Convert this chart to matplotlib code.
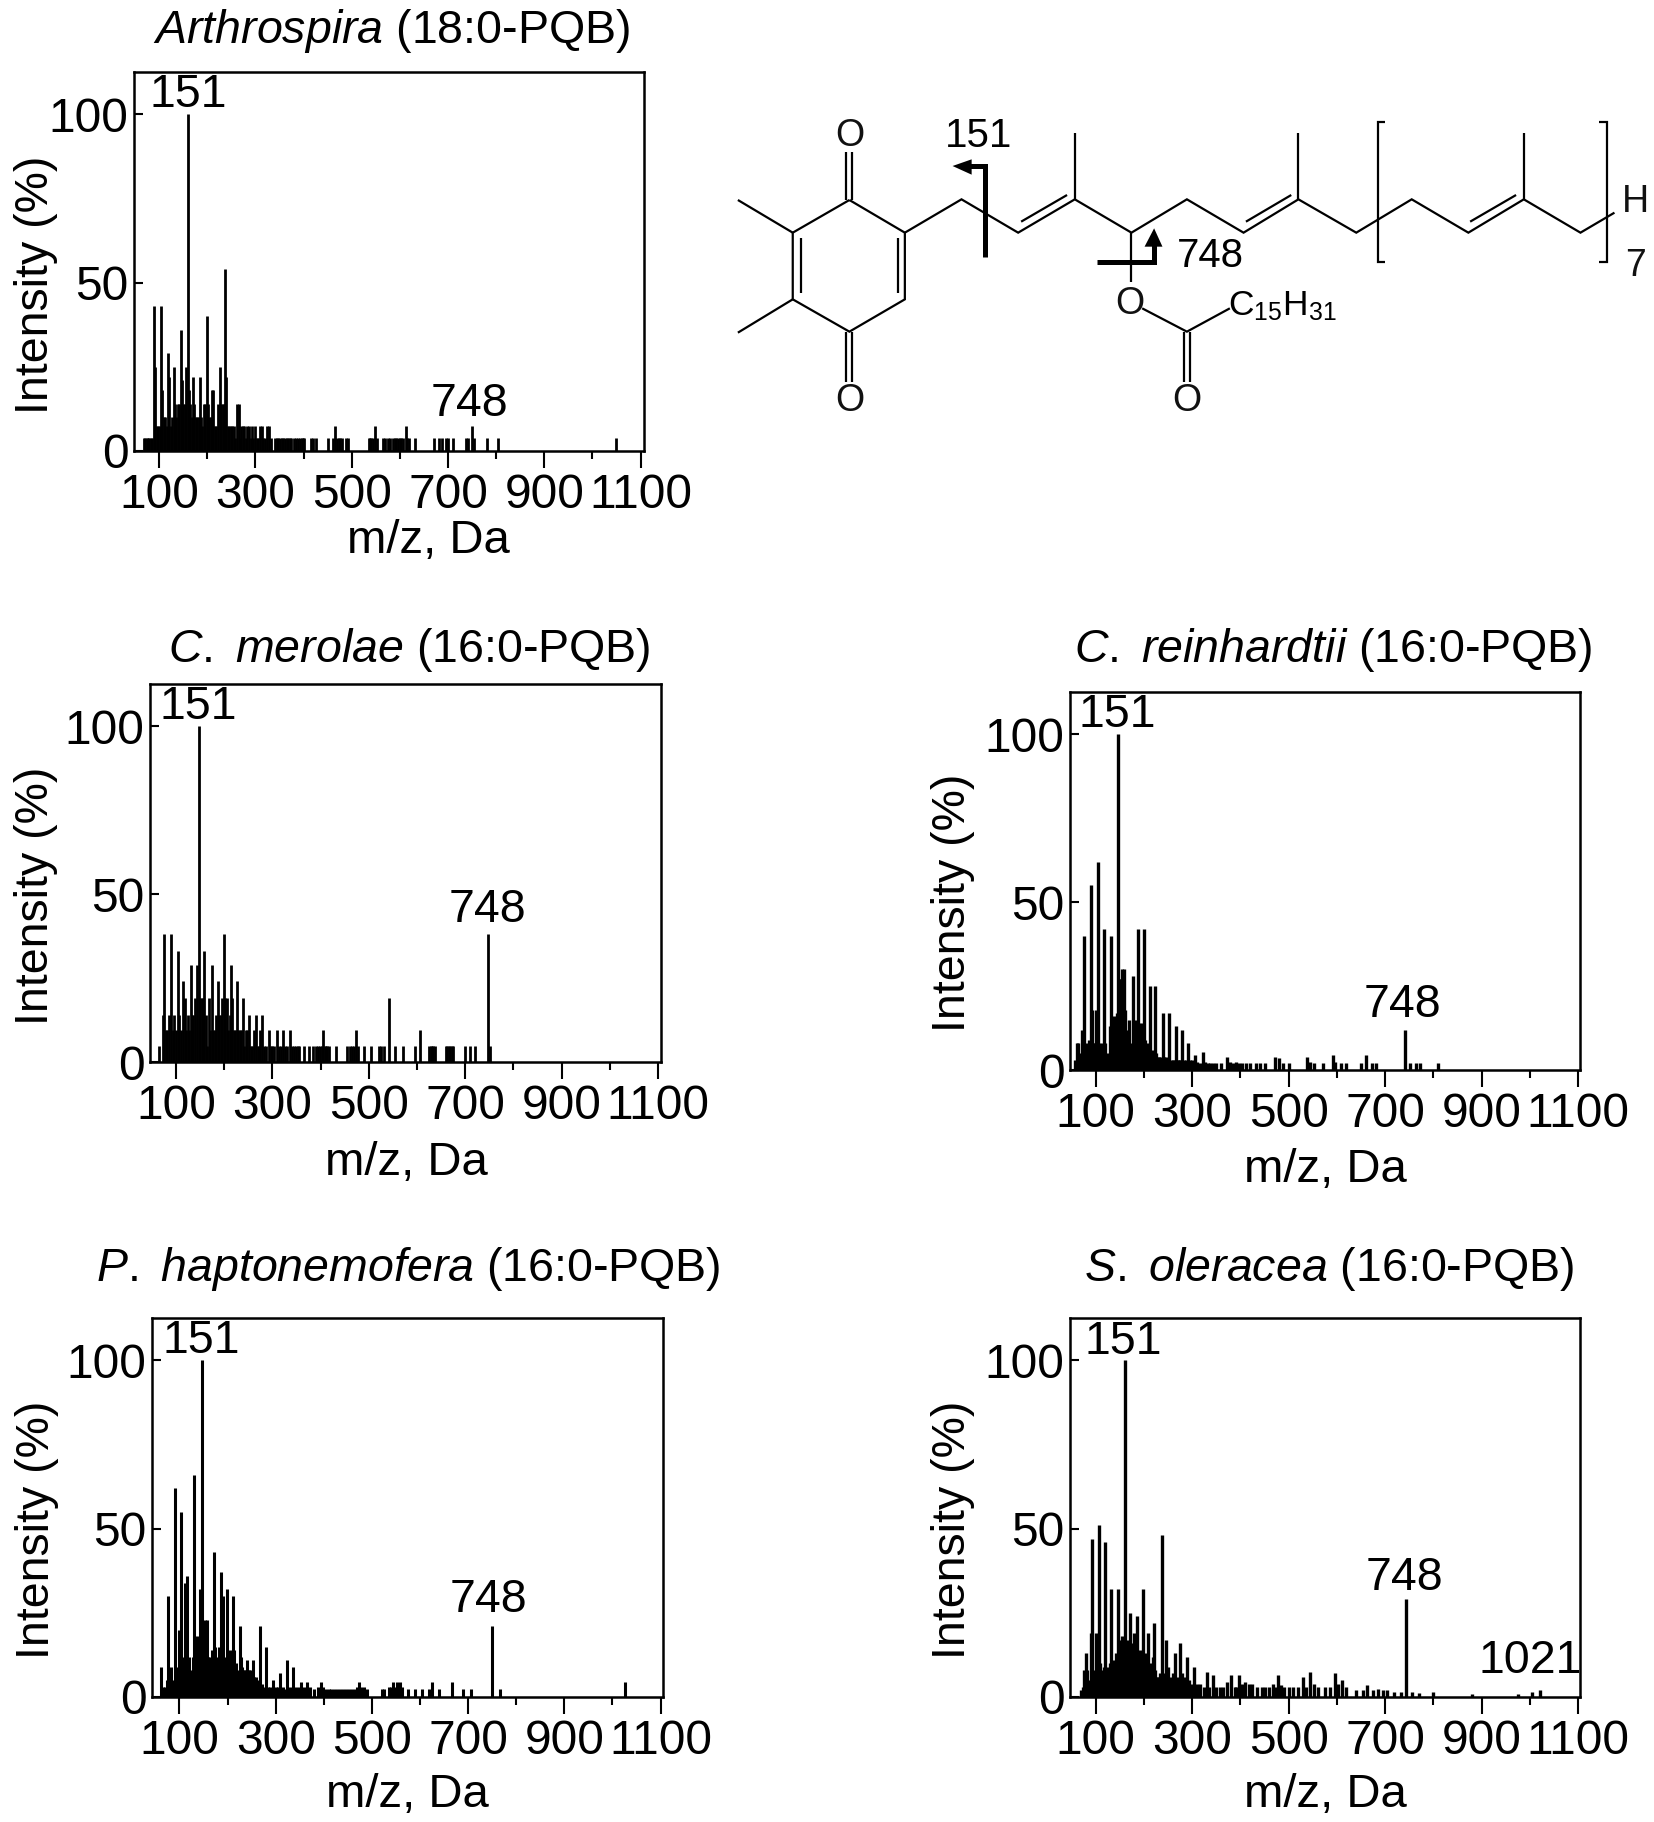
import matplotlib
matplotlib.use('Agg')
import matplotlib.pyplot as plt

plt.rcParams['font.family'] = ['Liberation Sans', 'DejaVu Sans']
plt.rcParams['mathtext.fontset'] = 'custom'
plt.rcParams['mathtext.rm'] = 'Liberation Sans'
plt.rcParams['mathtext.it'] = 'Liberation Sans:italic'

W, H = 1654, 1822
XTICK_MAJOR = [100, 300, 500, 700, 900, 1100]
XTICK_MINOR = [200, 400, 600, 800, 1000]
YTICKS = [0, 50, 100]

# m/z : intensity (%)
arth = {68:3.8,71:3.8,74:3.8,77:3.8,80:3.8,83:3.8,86:3.8,90:43,92:25,95:7.5,98:7.5,101:7.5,105:43,107:18,110:10,113:10,116:7.5,
 119:29,121:22,124:7.5,127:10,131:25,133:14,136:10,139:14,142:14,145:36,147:21,150:14,153:14,156:25,160:100,162:18,165:14,168:10,
 171:22,173:14,176:10,179:10,182:10,185:22,187:10,190:7.5,193:14,196:14,199:40,201:14,204:10,207:10,211:18,213:18,216:7.5,219:7.5,
 222:14,226:25,229:14,232:14,235:14,237:54,240:22,243:7.5,246:7.5,249:7.5,252:7.5,255:7.5,258:3.8,262:14,265:14,268:3.8,271:7.5,
 274:7.5,277:7.5,280:3.8,283:7.5,286:7.5,290:3.8,293:7.5,296:3.8,300:7.5,303:3.8,306:3.8,310:7.5,313:7.5,316:3.8,320:3.8,325:7.5,
 328:7.5,332:3.8,340:3.8,345:3.8,348:3.8,352:3.8,355:3.8,358:3.8,362:3.8,365:3.8,368:3.8,372:3.8,375:3.8,380:3.8,385:3.8,388:3.8,
 392:3.8,396:3.8,398:3.8,402:3.8,415:3.8,420:3.8,425:3.8,450:3.8,462:3.8,465:7.5,470:3.8,473:3.8,476:3.8,480:3.8,488:3.8,492:3.8,
 535:3.8,538:3.8,541:3.8,545:3.8,548:7.5,553:3.8,565:3.8,570:3.8,575:3.8,580:3.8,585:3.8,590:3.8,593:3.8,596:3.8,600:3.8,603:3.8,
 606:3.8,612:7.5,615:3.8,620:3.8,632:3.8,670:3.8,682:3.8,688:3.8,695:3.8,700:3.8,710:3.8,738:3.8,742:3.8,750:7.5,753:3.8,780:3.8,
 804:3.8,1049:3.8}

mero = {64:4.8,72:14,76:38,79:9.6,82:9.6,85:14,90:38,93:9.6,96:14,99:9.6,104:33,107:14,110:9.6,114:24,118:19,121:9.6,124:14,127:9.6,
 131:29,133:14,136:14,139:19,143:29,147:100,150:19,153:19,156:19,159:33,162:14,165:4.8,168:19,171:9.6,174:29,177:9.6,180:9.6,183:14,
 187:24,190:14,193:14,196:19,199:38,202:19,205:19,208:9.6,211:14,214:29,217:19,220:9.6,223:9.6,226:24,229:9.6,232:9.6,235:9.6,239:19,
 242:4.8,245:9.6,248:9.6,252:14,255:4.8,258:4.8,262:9.6,266:14,269:4.8,272:4.8,275:9.6,279:14,282:4.8,286:4.8,293:9.6,297:4.8,300:4.8,
 304:4.8,309:9.6,313:4.8,317:4.8,322:9.6,326:4.8,330:4.8,336:9.6,340:4.8,344:4.8,348:4.8,352:4.8,356:4.8,365:4.8,376:4.8,384:4.8,
 390:4.8,394:4.8,398:4.8,402:4.8,405:9.6,408:4.8,411:4.8,414:4.8,418:4.8,432:4.8,455:4.8,460:4.8,465:4.8,470:4.8,473:9.6,478:4.8,
 490:4.8,505:4.8,520:4.8,526:4.8,532:4.8,542:19,555:4.8,570:4.8,595:4.8,607:9.6,625:4.8,628:4.8,631:4.8,634:4.8,637:4.8,660:4.8,
 663:4.8,666:4.8,669:4.8,672:4.8,675:4.8,700:4.8,710:4.8,720:4.8,748:38,752:4.8}

rein = {58:3,61:8,63:8,66:4,69:5,72:12,76:40,78:4,81:8,84:5,87:9,90:55,93:18,96:8,99:8,101:18,104:62,107:8,110:5,113:8,117:42,120:8,
 123:4,126:5,129:13,132:40,135:8,138:16,141:10,144:17,147:100,150:27,153:27,155:30,158:30,161:18,164:12,167:8,170:15,173:8,178:28,
 181:15,184:12,187:42,190:14,193:9,196:14,200:42,203:9,206:8,209:5,213:25,216:6,219:4,223:25,226:5,229:4,232:4,235:4,239:17,242:4,
 245:4,249:3,253:17,256:3,260:3,263:3,266:13,270:3,273:3,276:3,280:12,284:3,288:3,292:8,296:3,300:3,306:4.5,310:2.5,316:2,322:5.5,
 327:2.5,332:2,338:2,344:2,350:2,360:2,373:4,378:2.5,385:2,392:2.5,398:2,404:2,412:2,420:2,432:2,440:2,452:2,472:4,480:3.5,488:2,
 500:2,539:4,544:2.5,552:2,572:2,592:4.5,596:2.5,608:2,618:2,650:2,660:4.5,672:2,682:2,742:12,752:2.2,765:2.2,772:2.2,810:2.2}

hapt = {62:9,65:3,70:3,74:5,76:30,79:5,82:9,85:5,90:62,93:9,96:5,99:20,103:55,106:12,109:8,112:34,116:36,119:12,122:8,125:6,128:12,
 130:66,133:18,136:8,139:18,142:32,146:100,149:18,153:23,157:23,160:12,163:12,166:8,168:14,171:43,174:15,177:8,180:12,183:15,186:37,
 190:30,193:12,196:8,199:32,202:12,205:14,208:8,211:30,214:14,217:10,220:8,225:21,228:12,231:9,234:8,237:8,241:11,244:8,247:8,250:6,
 253:11,256:6,259:6,262:5,268:21,272:4,276:3,280:15,284:3,288:3,295:5,300:3,305:3,310:7,315:3,319:2.5,324:11,330:3,336:9,342:3,348:3,
 353:4.5,358:3,365:4.5,372:3,380:2.5,388:3,394:4.5,398:3,404:2.5,410:2.5,416:2.5,422:2.5,428:2.5,434:2.5,440:2.5,446:2.5,452:2.5,
 458:2.5,464:2.5,470:3,473:4.5,478:3,484:3,490:2.5,520:2.5,526:2.5,535:3,540:3,544:4.5,548:3,552:4.5,558:4.5,562:3,575:2.5,590:2.5,
 605:2.5,618:2.5,624:4.5,640:2.5,667:4.5,690:2.5,705:2.5,749:21,767:2.5,1025:4.5}

oler = {70:2,74:3,77:8,80:13,83:8,87:5,90:19,92:47,95:8,98:7,101:19,104:8,107:51,110:10,113:8,117:9,120:46,123:9,126:8,129:10,133:32,
 136:9,139:11,142:13,146:32,149:15,152:17,155:18,158:16,161:100,164:14,167:17,171:25,174:14,177:16,180:19,183:12,186:24,189:10,192:14,
 195:12,199:32,202:12,205:13,208:19,212:10,215:8,218:12,221:22,224:8,227:6,230:6,233:7,237:48,240:6,243:7,246:17,251:9,254:6,257:5,
 261:7,265:13,268:6,272:5,276:16,280:7,284:6,290:12,294:5,298:4,304:9,310:4,316:4,324:3,330:7.5,336:3,344:6.5,350:3,358:3,365:3,
 372:4.5,380:6.5,388:3,392:3,398:6.5,404:4,410:4.5,418:4,425:4,435:3,445:3,452:3,460:3,468:4,474:3,479:6.5,484:3.5,490:3,500:3,
 510:3,520:3,530:6,536:3,545:7.5,552:4,560:3,575:3,585:3,596:7,602:4,610:5,620:3,640:2,655:2,663:3.5,675:2,685:2.5,695:2,705:2,
 718:1.5,732:1.5,744:29,755:1.5,770:1.2,800:1.5,880:1,975:1,1005:1.5,1021:2}

panels = [
    dict(box=(134, 644, 72, 451), xlim=(48, 1107), data=arth, lw=2.0,
         title=r'$\mathit{Arthrospira}$ (18:0-PQB)', tpos=(391, 31), xl=(428, 541), yl=(36, 285),
         ann=[('151', 160, 105.9), ('748', 745, 14.0)]),
    dict(box=(150, 661, 684, 1062), xlim=(46, 1106), data=mero, lw=2.0,
         title=r'$\mathit{C.}$ $\mathit{merolae}$ (16:0-PQB)', tpos=(409, 650), xl=(406, 1163), yl=(36, 896),
         ann=[('151', 147, 105.6), ('748', 745, 45.4)]),
    dict(box=(1070, 1580, 692, 1070), xlim=(47, 1104), data=rein, lw=2.4,
         title=r'$\mathit{C.}$ $\mathit{reinhardtii}$ (16:0-PQB)', tpos=(1333, 650), xl=(1325, 1170), yl=(953, 903),
         ann=[('151', 145, 105.7), ('748', 735, 19.4)]),
    dict(box=(152, 663, 1318, 1697), xlim=(43, 1105), data=hapt, lw=2.2,
         title=r'$\mathit{P.}$ $\mathit{haptonemofera}$ (16:0-PQB)', tpos=(408, 1269), xl=(407, 1795), yl=(37, 1530),
         ann=[('151', 145, 105.8), ('748', 743, 28.7)]),
    dict(box=(1070, 1580, 1318, 1697), xlim=(47, 1104), data=oler, lw=2.4,
         title=r'$\mathit{S.}$ $\mathit{oleracea}$ (16:0-PQB)', tpos=(1329, 1269), xl=(1325, 1795), yl=(953, 1530),
         ann=[('151', 157, 105.6), ('748', 741, 35.4), ('1021', 1000, 10.8)]),
]

fig = plt.figure(figsize=(W / 100, H / 100), dpi=100, facecolor='white')
ov = fig.add_axes([0, 0, 1, 1], zorder=5)
ov.set_xlim(0, W)
ov.set_ylim(H, 0)
ov.axis('off')
ov.patch.set_alpha(0)

FS = 34.5
for p in panels:
    x0, x1, y0, y1 = p['box']
    ax = fig.add_axes([x0 / W, 1 - y1 / H, (x1 - x0) / W, (y1 - y0) / H])
    ax.vlines(list(p['data'].keys()), 0, list(p['data'].values()), color='black', lw=p['lw'])
    ax.set_xlim(*p['xlim'])
    ax.set_ylim(0, 112.6)
    ax.set_xticks(XTICK_MAJOR)
    ax.set_xticks(XTICK_MINOR, minor=True)
    ax.set_yticks(YTICKS)
    ax.tick_params(axis='x', which='major', direction='out', length=12, width=1.5, labelsize=FS, pad=4)
    ax.tick_params(axis='x', which='minor', direction='out', length=6, width=1.5)
    ax.tick_params(axis='y', direction='in', length=6.5, width=1.5, labelsize=FS, pad=4)
    for s in ax.spines.values():
        s.set_linewidth(1.8)
    for label, xv, yv in p['ann']:
        ax.text(xv, yv, label, fontsize=33.5, ha='center', va='center', color='black')
    ov.text(*p['tpos'], p['title'], fontsize=33.5, ha='center', va='center')
    ov.text(*p['xl'], 'm/z, Da', fontsize=34, ha='center', va='center')
    ov.text(*p['yl'], 'Intensity (%)', fontsize=33.5, ha='center', va='center', rotation=90)


# Chemical structure, in coordinates of the structure drawing
def sx(v):
    return 720 + v / 1.677


def sy(v):
    return 80 + v / 3


bonds = [
    [(217, 360), (310, 458), (310, 658), (217, 755), (122, 658), (122, 458), (217, 360)],
    [(298, 475), (298, 640)], [(135, 475), (135, 640)],
    [(212, 360), (212, 215)], [(222, 360), (222, 215)],
    [(212, 755), (212, 905)], [(222, 755), (222, 905)],
    [(122, 458), (30, 360)], [(122, 658), (30, 758)],
    [(310, 458), (405, 358), (500, 458), (595, 358), (690, 458), (783, 358), (878, 458),
     (970, 358), (1067, 458), (1160, 358), (1255, 458), (1348, 358), (1443, 458), (1500, 398)],
    [(505, 425), (582, 345)], [(882, 425), (958, 345)], [(1258, 425), (1335, 345)],
    [(595, 358), (595, 160)], [(970, 358), (970, 160)], [(1348, 358), (1348, 160)],
    [(690, 458), (690, 605)], [(708, 685), (783, 755), (855, 685)],
    [(778, 755), (778, 905)], [(788, 755), (788, 905)],
    [(1115, 125), (1103, 125), (1103, 545), (1115, 545)],
    [(1474, 125), (1487, 125), (1487, 545), (1474, 545)],
]
for b in bonds:
    ov.plot([sx(q[0]) for q in b], [sy(q[1]) for q in b], color='black', lw=1.6,
            solid_joinstyle='miter', solid_capstyle='butt')

thick = [
    [(445, 532), (445, 258), (415, 258)],
    [(632, 545), (728, 545), (728, 495)],
]
for b in thick:
    ov.plot([sx(q[0]) for q in b], [sy(q[1]) for q in b], color='black', lw=3.6,
            solid_joinstyle='miter', solid_capstyle='butt')

heads = [
    [(390, 258), (422, 238), (422, 284)],
    [(728, 445), (712, 500), (742, 500)],
]
for h in heads:
    ov.fill([sx(q[0]) for q in h], [sy(q[1]) for q in h], color='black', lw=0)

atoms = [('O', 217, 169), ('O', 217, 964), ('O', 688, 671), ('O', 783, 964), ('H', 1535, 367), ('7', 1535, 557)]
for t, vx, vy in atoms:
    ov.text(sx(vx), sy(vy), t, fontsize=27, ha='center', va='center', color='#111111')
ov.text(sx(433), sy(167), '151', fontsize=29, ha='center', va='center')
ov.text(sx(822), sy(529), '748', fontsize=29, ha='center', va='center')
ov.text(sx(852), sy(677), r'C$_{\mathrm{15}}$H$_{\mathrm{31}}$', fontsize=25.5, ha='left', va='center')

fig.savefig('out.png', dpi=100, facecolor='white')
